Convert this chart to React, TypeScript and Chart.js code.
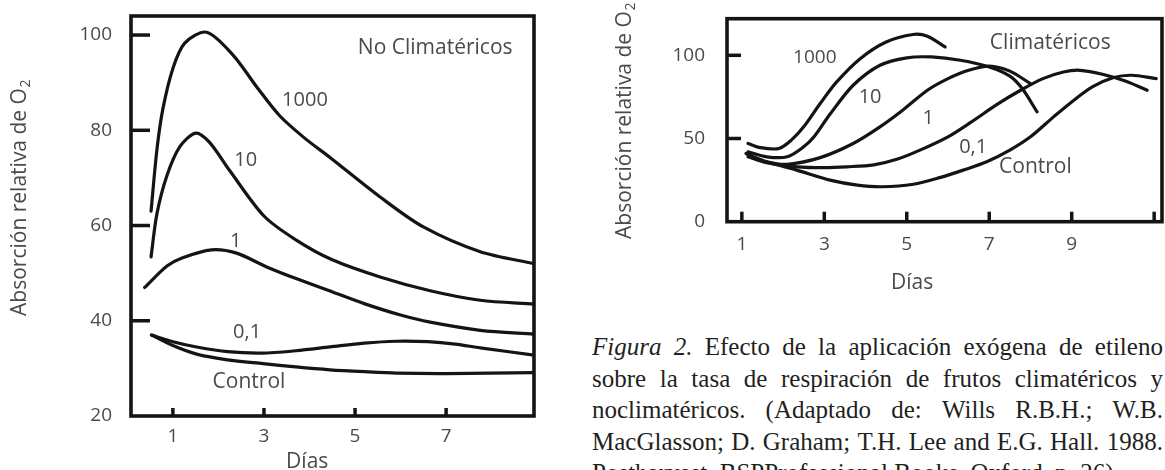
import React, { useEffect, useRef } from "react";
import { Chart, registerables } from "chart.js";

Chart.register(...registerables);

type Pt = [number, number];

// ---------------- Left panel: No climatéricos ----------------
const ncDayTicks = [1, 3, 5, 7];
const ncDayTickLabels = ["1", "3", "5", "7"];
const ncO2Ticks = [20, 40, 60, 80, 100];
const ncSeriesNames = ["1000", "10", "1", "0,1", "Control"];
const nc1000: Pt[] = [
  [0.52, 63], [0.65, 76], [0.78, 84.5], [1.0, 93], [1.26, 98.3], [1.74, 100.6],
  [2.32, 95.8], [2.85, 89], [3.35, 83], [3.9, 78.3], [4.45, 74.3], [5.55, 66],
  [6.5, 59.7], [7.75, 54.5], [8.93, 52],
];
const nc10: Pt[] = [
  [0.52, 53.4], [0.65, 62.5], [0.87, 70.5], [1.15, 76.5], [1.5, 79.4], [1.8, 77.5],
  [2.25, 71.5], [3.0, 62], [3.7, 57], [4.5, 52.8], [5.55, 49.2], [6.65, 46.3],
  [7.75, 44.3], [8.93, 43.5],
];
const nc1: Pt[] = [
  [0.38, 47], [0.87, 51.5], [1.2, 53.2], [1.85, 54.9], [2.4, 54.2], [3.06, 51.3],
  [3.72, 48.8], [4.52, 46], [5.2, 43.6], [6.0, 41.2], [6.65, 39.7], [7.75, 38],
  [8.93, 37.2],
];
const nc01: Pt[] = [
  [0.53, 37], [1.0, 35.6], [1.52, 34.5], [2.2, 33.5], [2.95, 33.2], [3.7, 33.7],
  [4.45, 34.5], [5.2, 35.3], [5.9, 35.7], [6.6, 35.6], [7.2, 35.1], [7.75, 34.3],
  [8.93, 32.8],
];
const ncControl: Pt[] = [
  [0.53, 37], [1.0, 34.8], [1.52, 33], [2.2, 31.8], [2.98, 31], [3.7, 30.3],
  [4.45, 29.7], [5.2, 29.3], [5.92, 29], [7.0, 28.9], [8.93, 29.1],
];

// ---------------- Right panel: Climatéricos ----------------
const clDayTicks = [1, 3, 5, 7, 9, 11];
const clDayTickLabels = ["1", "3", "5", "7", "9", ""];
const clO2Ticks = [0, 50, 100];
const clSeriesNames = ["1000", "10", "1", "0,1", "Control"];
const cl1000: Pt[] = [
  [1.15, 47], [1.45, 44.5], [1.9, 44], [2.2, 49], [2.5, 57], [2.9, 71], [3.3, 84],
  [3.87, 98], [4.5, 108], [5.15, 112.5], [5.5, 111.5], [5.93, 105],
];
const cl10: Pt[] = [
  [1.15, 42], [1.6, 39], [2.1, 39], [2.5, 45], [2.75, 51], [3.15, 65], [3.7, 82],
  [4.35, 94], [5.0, 98.5], [5.6, 99], [6.3, 97], [7.0, 93], [7.5, 87.5],
  [7.8, 80], [8.16, 66],
];
const cl1: Pt[] = [
  [1.15, 40], [1.6, 36], [2.1, 34.5], [2.9, 38.5], [3.7, 47], [4.35, 57],
  [4.9, 67], [5.5, 79], [6.0, 86], [6.5, 91], [7.0, 93.5], [7.5, 90.5], [8.0, 83],
];
const cl01: Pt[] = [
  [1.15, 39], [1.6, 35.5], [2.33, 33], [3.0, 32.5], [3.55, 33], [4.2, 34.2],
  [4.76, 37.5], [5.32, 43], [6.0, 51], [6.54, 59.5], [7.19, 70.5], [7.76, 79],
  [8.3, 86], [8.8, 90], [9.2, 91], [9.77, 88.5], [10.3, 84.5], [10.83, 79],
];
const clControl: Pt[] = [
  [1.1, 41], [1.6, 36], [2.33, 31], [3.14, 25], [3.8, 22], [4.4, 21], [5.16, 22.5],
  [5.8, 26.5], [6.37, 31], [6.94, 36], [7.5, 43], [8.0, 51], [8.56, 63], [9.0, 72],
  [9.5, 81], [10.0, 86.5], [10.45, 88], [11.05, 86],
];

// ---------------- Texts ----------------
const panelTitles = ["No Climatéricos", "Climatéricos"];
const yAxisTitleMain = "Absorción relativa de O";
const yAxisTitleSub = "2";
const xAxisTitle = "Días";
const captionLead = "Figura 2.";
const captionLines = [
  "Efecto de la aplicación exógena de etileno",
  "sobre la tasa de respiración de frutos climatéricos y",
  "noclimatéricos. (Adaptado de: Wills R.B.H.; W.B.",
  "MacGlasson; D. Graham; T.H. Lee and E.G. Hall. 1988.",
  "Postharvest. BSPProfessional Books. Oxford. p. 26).",
];

// ---------------- Styling / layout ----------------
const LINE = "#141414";
const TEXT = "#4a4a4a";
const FONT = "'Open Sans', 'Noto Sans', sans-serif";

type Label = { text: string; x: number; y: number; size: number };

type PanelCfg = {
  left: number; top: number; w: number; h: number;
  padTop: number; padRight: number; yAxisW: number; xAxisH: number;
  xMin: number; xMax: number; yMin: number; yMax: number;
  xTicks: number[]; xTickLabels: string[]; yTicks: number[];
  xTickPad: number; yTickPad: number; tickFont: number;
  yTickLen: number; xTickLen: number;
  series: { name: string; points: Pt[] }[];
  labels: Label[];
  xTitle: { x: number; dy: number };
  yTitle: { px: number; py: number };
};

const leftPanel: PanelCfg = {
  left: 0, top: 0, w: 580, h: 470,
  padTop: 16, padRight: 46, yAxisW: 131, xAxisH: 54,
  xMin: 0.08, xMax: 8.93, yMin: 20, yMax: 104,
  xTicks: ncDayTicks, xTickLabels: ncDayTickLabels, yTicks: ncO2Ticks,
  xTickPad: 9, yTickPad: 19, tickFont: 19,
  yTickLen: 19, xTickLen: 8,
  series: [nc1000, nc10, nc1, nc01, ncControl].map((p, i) => ({ name: ncSeriesNames[i], points: p })),
  labels: [
    { text: panelTitles[0], x: 6.76, y: 97.3, size: 21 },
    { text: ncSeriesNames[0], x: 3.9, y: 86.4, size: 20 },
    { text: ncSeriesNames[1], x: 2.6, y: 73.8, size: 20 },
    { text: ncSeriesNames[2], x: 2.38, y: 56.7, size: 20 },
    { text: ncSeriesNames[3], x: 2.63, y: 37.6, size: 20 },
    { text: ncSeriesNames[4], x: 2.67, y: 27.1, size: 21 },
  ],
  xTitle: { x: 3.95, dy: 46 },
  yTitle: { px: 20, py: 198 },
};

const rightPanel: PanelCfg = {
  left: 580, top: 0, w: 585, h: 300,
  padTop: 18.7, padRight: 3, yAxisW: 147, xAxisH: 78.3,
  xMin: 0.64, xMax: 11.19, yMin: 0, yMax: 122,
  xTicks: clDayTicks, xTickLabels: clDayTickLabels, yTicks: clO2Ticks,
  xTickPad: 11, yTickPad: 22, tickFont: 19,
  yTickLen: 14, xTickLen: 10,
  series: [cl1000, cl10, cl1, cl01, clControl].map((p, i) => ({ name: clSeriesNames[i], points: p })),
  labels: [
    { text: panelTitles[1], x: 8.48, y: 107.1, size: 21 },
    { text: clSeriesNames[0], x: 2.77, y: 98.7, size: 19 },
    { text: clSeriesNames[1], x: 4.11, y: 74.7, size: 20 },
    { text: clSeriesNames[2], x: 5.52, y: 62.1, size: 20 },
    { text: clSeriesNames[3], x: 6.61, y: 44.8, size: 20 },
    { text: clSeriesNames[4], x: 8.12, y: 32.8, size: 21 },
  ],
  xTitle: { x: 5.13, dy: 61.3 },
  yTitle: { px: 45, py: 121 },
};

function decorPlugin(p: PanelCfg) {
  return {
    id: "decor",
    afterDraw(chart: any) {
      const { ctx, chartArea: a, scales } = chart;
      const xs = scales.x;
      const ys = scales.y;
      ctx.save();
      // frame
      ctx.strokeStyle = LINE;
      ctx.lineWidth = 3.6;
      ctx.strokeRect(a.left, a.top, a.right - a.left, a.bottom - a.top);
      // inward ticks
      ctx.lineWidth = 3.5;
      ctx.lineCap = "butt";
      for (const v of p.yTicks) {
        if (v <= p.yMin || v >= p.yMax) continue;
        const py = ys.getPixelForValue(v);
        ctx.beginPath();
        ctx.moveTo(a.left, py);
        ctx.lineTo(a.left + p.yTickLen, py);
        ctx.stroke();
      }
      for (const v of p.xTicks) {
        const px = xs.getPixelForValue(v);
        ctx.beginPath();
        ctx.moveTo(px, a.bottom);
        ctx.lineTo(px, a.bottom - p.xTickLen);
        ctx.stroke();
      }
      // curve labels and panel title
      ctx.fillStyle = TEXT;
      ctx.textAlign = "center";
      ctx.textBaseline = "middle";
      for (const l of p.labels) {
        ctx.font = `${l.size}px ${FONT}`;
        ctx.fillText(l.text, xs.getPixelForValue(l.x), ys.getPixelForValue(l.y));
      }
      // x axis title
      ctx.font = `21px ${FONT}`;
      ctx.fillText(xAxisTitle, xs.getPixelForValue(p.xTitle.x), a.bottom + p.xTitle.dy);
      // y axis title (rotated, with subscript)
      ctx.translate(p.yTitle.px, p.yTitle.py);
      ctx.rotate(-Math.PI / 2);
      ctx.font = `21px ${FONT}`;
      const wMain = ctx.measureText(yAxisTitleMain).width;
      ctx.font = `14px ${FONT}`;
      const wSub = ctx.measureText(yAxisTitleSub).width;
      const start = -(wMain + wSub) / 2;
      ctx.textAlign = "left";
      ctx.font = `21px ${FONT}`;
      ctx.fillText(yAxisTitleMain, start, 0);
      ctx.font = `14px ${FONT}`;
      ctx.fillText(yAxisTitleSub, start + wMain + 0.5, 6);
      ctx.restore();
    },
  };
}

function buildConfig(p: PanelCfg): any {
  return {
    type: "line",
    data: {
      datasets: p.series.map((s) => ({
        label: s.name,
        data: s.points.map(([x, y]) => ({ x, y })),
        borderColor: LINE,
        borderWidth: 3.2,
        pointRadius: 0,
        fill: false,
        tension: 0.3,
        borderCapStyle: "round",
        borderJoinStyle: "round",
      })),
    },
    options: {
      animation: false,
      responsive: false,
      events: [],
      layout: { padding: { left: 0, top: p.padTop, right: p.padRight, bottom: 0 } },
      plugins: {
        legend: { display: false },
        tooltip: { enabled: false },
        title: { display: false },
      },
      scales: {
        x: {
          type: "linear",
          min: p.xMin,
          max: p.xMax,
          afterBuildTicks: (s: any) => {
            s.ticks = p.xTicks.map((v) => ({ value: v }));
          },
          afterFit: (s: any) => {
            s.height = p.xAxisH;
            s.paddingLeft = 0;
            s.paddingRight = 0;
            s.paddingTop = 0;
            s.paddingBottom = 0;
          },
          grid: { display: false, drawTicks: false },
          border: { display: false },
          ticks: {
            autoSkip: false,
            maxRotation: 0,
            padding: p.xTickPad,
            color: TEXT,
            font: { family: FONT, size: p.tickFont },
            callback: (_v: any, i: number) => p.xTickLabels[i],
          },
        },
        y: {
          type: "linear",
          min: p.yMin,
          max: p.yMax,
          afterBuildTicks: (s: any) => {
            s.ticks = p.yTicks.map((v) => ({ value: v }));
          },
          afterFit: (s: any) => {
            s.width = p.yAxisW;
            s.paddingLeft = 0;
            s.paddingRight = 0;
            s.paddingTop = 0;
            s.paddingBottom = 0;
          },
          grid: { display: false, drawTicks: false },
          border: { display: false },
          ticks: {
            autoSkip: false,
            padding: p.yTickPad,
            color: TEXT,
            font: { family: FONT, size: p.tickFont },
            callback: (v: any) => String(v),
          },
        },
      },
    },
    plugins: [decorPlugin(p)],
  };
}

function Panel({ cfg }: { cfg: PanelCfg }) {
  const ref = useRef<HTMLCanvasElement>(null);
  useEffect(() => {
    const chart = new Chart(ref.current as HTMLCanvasElement, buildConfig(cfg));
    return () => chart.destroy();
  }, [cfg]);
  return (
    <canvas
      ref={ref}
      width={cfg.w}
      height={cfg.h}
      style={{ position: "absolute", left: cfg.left, top: cfg.top, width: cfg.w, height: cfg.h }}
    />
  );
}

function CaptionLine({ text, lead, last }: { text: string; lead?: string; last: boolean }) {
  const words = text.split(" ");
  const items: React.ReactNode[] = [];
  if (lead) {
    lead.split(" ").forEach((w, i) => items.push(<i key={"l" + i}>{w}</i>));
  }
  words.forEach((w, i) => items.push(<span key={"w" + i}>{w}</span>));
  return (
    <div
      style={{
        display: "flex",
        justifyContent: last ? "flex-start" : "space-between",
        gap: last ? "0.25em" : undefined,
        whiteSpace: "nowrap",
        height: 31.5,
      }}
    >
      {items}
    </div>
  );
}

export default function App() {
  return (
    <div
      style={{
        position: "absolute",
        left: 0,
        top: 0,
        width: 1165,
        height: 470,
        overflow: "hidden",
        background: "#ffffff",
      }}
    >
      <Panel cfg={leftPanel} />
      <Panel cfg={rightPanel} />
      <div
        style={{
          position: "absolute",
          left: 592,
          top: 331,
          width: 571,
          fontFamily: "'Liberation Serif', 'Times New Roman', serif",
          fontSize: 25,
          lineHeight: "31.5px",
          color: "#231f20",
        }}
      >
        {captionLines.map((line, i) => (
          <CaptionLine
            key={i}
            text={line}
            lead={i === 0 ? captionLead : undefined}
            last={i === captionLines.length - 1}
          />
        ))}
      </div>
    </div>
  );
}
